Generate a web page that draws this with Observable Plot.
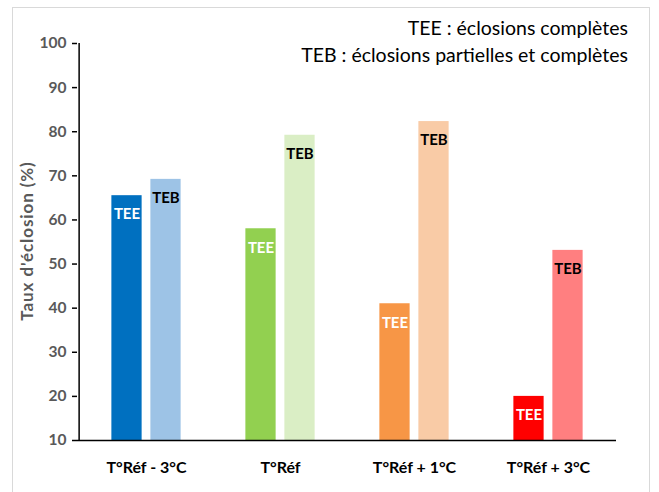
<!DOCTYPE html>
<html><head><meta charset="utf-8">
<script src="https://cdn.jsdelivr.net/npm/d3@7"></script>
<script src="https://cdn.jsdelivr.net/npm/@observablehq/plot@0.6"></script>
<style>
body{margin:0;background:#fff;font-family:Lato,"Open Sans",sans-serif;}
#wrap{position:relative;width:659px;height:492px;overflow:hidden;}
#border{position:absolute;left:12px;top:7px;width:638px;height:500px;border:1px solid #d9d9d9;box-sizing:border-box;}
.leg{position:absolute;right:31px;font-size:19.5px;line-height:20px;color:#000;white-space:nowrap;}
#ylab{position:absolute;left:26px;top:241px;transform:translate(-50%,-50%) rotate(-90deg);font-weight:bold;font-size:17px;letter-spacing:0.9px;color:#595959;white-space:nowrap;}
#chart{position:absolute;left:0;top:0;}
</style></head>
<body>
<div id="wrap">
<div id="border"></div>
<div id="chart"></div>
<div class="leg" id="leg1" style="top:18px"></div>
<div class="leg" id="leg2" style="top:45px"></div>
<div id="ylab"></div>
</div>
<script>
const groups = ["T°Réf - 3°C", "T°Réf", "T°Réf + 1°C", "T°Réf + 3°C"];
const series = ["TEE", "TEB"];
const teeValues = [65.5, 58, 41, 20];
const tebValues = [69.2, 79.2, 82.3, 53.1];
const teeColors = ["#0070C0", "#92D050", "#F79646", "#FF0000"];
const tebColors = ["#9DC3E6", "#DAEEC5", "#F9CBA6", "#FF7F80"];
const yTicks = [10, 20, 30, 40, 50, 60, 70, 80, 90, 100];
const legendLines = ["TEE : éclosions complètes", "TEB : éclosions partielles et complètes"];
const yLabel = "Taux d'éclosion (%)";

document.getElementById("leg1").textContent = legendLines[0];
document.getElementById("leg2").textContent = legendLines[1];
document.getElementById("ylab").textContent = yLabel;

const tee = groups.map((g, i) => ({group: g, value: teeValues[i], color: teeColors[i], s: series[0]}));
const teb = groups.map((g, i) => ({group: g, value: tebValues[i], color: tebColors[i], s: series[1]}));

const bandW = (659 - 77 - 43) / 4;
const half = bandW / 2;
const off = 19.5, bw = 31;

const chart = Plot.plot({
  width: 659, height: 492,
  marginTop: 43, marginBottom: 52, marginLeft: 77, marginRight: 43,
  style: {fontFamily: "Lato, 'Open Sans', sans-serif", background: "transparent"},
  x: {domain: groups, padding: 0, label: null},
  y: {domain: [10, 100], label: null},
  marks: [
    Plot.barY(tee, {x: "group", y1: 10, y2: "value", fill: "color",
      insetLeft: half - off - bw / 2, insetRight: half + off - bw / 2}),
    Plot.barY(teb, {x: "group", y1: 10, y2: "value", fill: "color",
      insetLeft: half + off - bw / 2, insetRight: half - off - bw / 2}),
    Plot.text(tee, {x: "group", y: "value", text: "s", dx: -off, dy: 19, fill: "white",
      fontWeight: "bold", fontSize: 15}),
    Plot.text(teb, {x: "group", y: "value", text: "s", dx: off, dy: 19, fill: "black",
      fontWeight: "bold", fontSize: 15}),
    Plot.ruleY([10], {stroke: "#000", strokeWidth: 1.5}),
    Plot.ruleX([0], {x: () => groups[0], dx: -half, y1: 10, y2: 100, stroke: "#000", strokeWidth: 1.5}),
    Plot.axisY({ticks: yTicks, tickSize: 5, tickPadding: 6, stroke: "#000", strokeWidth: 1.5,
      fill: "#595959", fontWeight: "bold", fontSize: 15.5, label: null}),
    Plot.axisX({tickSize: 0, tickPadding: 21, fill: "#000", fontWeight: "bold", fontSize: 16, label: null})
  ]
});
document.getElementById("chart").appendChild(chart);
</script>
</body></html>
